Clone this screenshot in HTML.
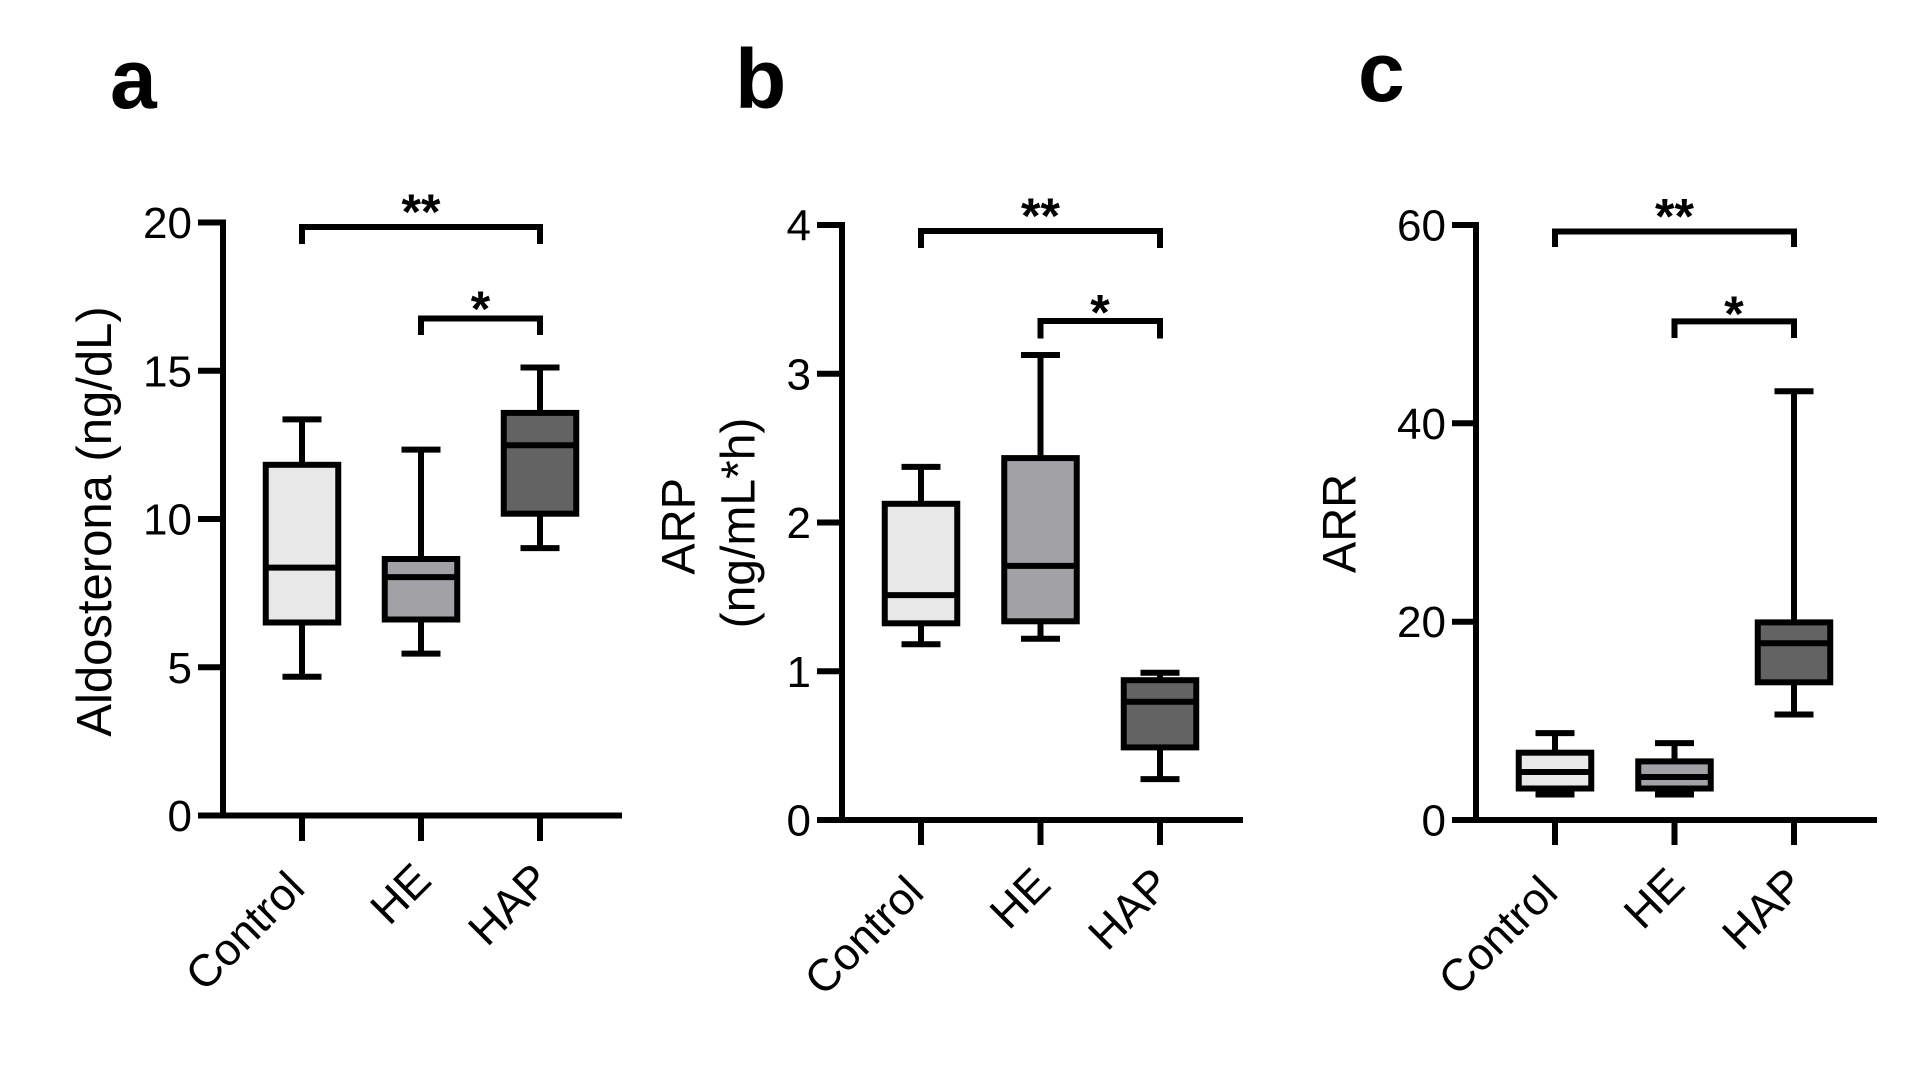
<!DOCTYPE html>
<html><head><meta charset="utf-8"><style>
html,body{margin:0;padding:0;background:#fff;}
svg{display:block;}
text{font-family:"Liberation Sans",Arial,sans-serif;fill:#000;}
.t{font-size:44px;}
.xl{font-size:45px;}
.ti{font-size:84px;font-weight:bold;}
.st{font-size:50px;font-weight:bold;}
.ln{stroke:#000;stroke-width:6;fill:none;stroke-linecap:butt;stroke-linejoin:miter;}
.bx{stroke:#000;stroke-width:6;}
</style></head><body>
<svg width="1926" height="1071" viewBox="0 0 1926 1071" xmlns="http://www.w3.org/2000/svg">
<rect width="1926" height="1071" fill="#fff"/>

<!-- Titles -->
<text class="ti" x="110" y="108">a</text>
<text class="ti" x="735" y="108">b</text>
<text class="ti" x="1358" y="101">c</text>

<!-- ================= Panel a ================= -->
<g>
<polyline class="ln" points="198,222.5 223,222.5 223,815.5"/>
<line class="ln" x1="198" y1="815.5" x2="622" y2="815.5"/>
<line class="ln" x1="198" y1="667.25" x2="223" y2="667.25"/>
<line class="ln" x1="198" y1="519" x2="223" y2="519"/>
<line class="ln" x1="198" y1="370.75" x2="223" y2="370.75"/>
<line class="ln" x1="302" y1="815.5" x2="302" y2="841"/>
<line class="ln" x1="421" y1="815.5" x2="421" y2="841"/>
<line class="ln" x1="540" y1="815.5" x2="540" y2="841"/>
<g class="t" text-anchor="end">
<text x="192" y="831">0</text>
<text x="192" y="682.75">5</text>
<text x="192" y="534.5">10</text>
<text x="192" y="386.25">15</text>
<text x="192" y="238">20</text>
</g>
<text style="font-size:49px" text-anchor="middle" transform="translate(111,521.5) rotate(-90)">Aldosterona (ng/dL)</text>
<g class="xl" text-anchor="end">
<text transform="translate(307,890.5) rotate(-45)">Control</text>
<text transform="translate(433.5,882.5) rotate(-45)">HE</text>
<text transform="translate(552.5,882.5) rotate(-45)">HAP</text>
</g>
<!-- Control -->
<line class="ln" x1="302" y1="419.4" x2="302" y2="464.8"/>
<line class="ln" x1="302" y1="622.5" x2="302" y2="676.7"/>
<line class="ln" x1="282.5" y1="419.4" x2="321.5" y2="419.4"/>
<line class="ln" x1="282.5" y1="676.7" x2="321.5" y2="676.7"/>
<rect class="bx" x="265.75" y="464.8" width="72.5" height="157.7" fill="#e8e8e8"/>
<line class="ln" x1="265.75" y1="567.6" x2="338.25" y2="567.6"/>
<!-- HE -->
<line class="ln" x1="421" y1="449.6" x2="421" y2="559"/>
<line class="ln" x1="421" y1="619.5" x2="421" y2="653.6"/>
<line class="ln" x1="401.5" y1="449.6" x2="440.5" y2="449.6"/>
<line class="ln" x1="401.5" y1="653.6" x2="440.5" y2="653.6"/>
<rect class="bx" x="384.75" y="559" width="72.5" height="60.5" fill="#a2a1a5"/>
<line class="ln" x1="384.75" y1="577.1" x2="457.25" y2="577.1"/>
<!-- HAP -->
<line class="ln" x1="540" y1="367.5" x2="540" y2="412.9"/>
<line class="ln" x1="540" y1="513.7" x2="540" y2="548.1"/>
<line class="ln" x1="520.5" y1="367.5" x2="559.5" y2="367.5"/>
<line class="ln" x1="520.5" y1="548.1" x2="559.5" y2="548.1"/>
<rect class="bx" x="503.75" y="412.9" width="72.5" height="100.8" fill="#636363"/>
<line class="ln" x1="503.75" y1="445.2" x2="576.25" y2="445.2"/>
<!-- brackets -->
<polyline class="ln" points="302,244 302,227 540,227 540,244"/>
<polyline class="ln" points="421,335 421,318.5 540,318.5 540,335"/>
<text class="st" x="421" y="229" text-anchor="middle">**</text>
<text class="st" x="480.5" y="326" text-anchor="middle">*</text>
</g>

<!-- ================= Panel b ================= -->
<g>
<polyline class="ln" points="817,225 842,225 842,820"/>
<line class="ln" x1="817" y1="820" x2="1243" y2="820"/>
<line class="ln" x1="817" y1="671.25" x2="842" y2="671.25"/>
<line class="ln" x1="817" y1="522.5" x2="842" y2="522.5"/>
<line class="ln" x1="817" y1="373.75" x2="842" y2="373.75"/>
<line class="ln" x1="921" y1="820" x2="921" y2="845"/>
<line class="ln" x1="1040.5" y1="820" x2="1040.5" y2="845"/>
<line class="ln" x1="1160" y1="820" x2="1160" y2="845"/>
<g class="t" text-anchor="end">
<text x="811" y="835.5">0</text>
<text x="811" y="686.75">1</text>
<text x="811" y="538">2</text>
<text x="811" y="389.25">3</text>
<text x="811" y="240.5">4</text>
</g>
<text style="font-size:47px" text-anchor="middle" transform="translate(694.5,526.4) rotate(-90)">ARP</text>
<text style="font-size:48px" text-anchor="middle" transform="translate(754.5,523) rotate(-90)">(ng/mL*h)</text>
<g class="xl" text-anchor="end">
<text transform="translate(926,895) rotate(-45)">Control</text>
<text transform="translate(1053,887) rotate(-45)">HE</text>
<text transform="translate(1172.5,887) rotate(-45)">HAP</text>
</g>
<!-- Control -->
<line class="ln" x1="921" y1="466.9" x2="921" y2="503.8"/>
<line class="ln" x1="921" y1="623.3" x2="921" y2="644.3"/>
<line class="ln" x1="901.5" y1="466.9" x2="940.5" y2="466.9"/>
<line class="ln" x1="901.5" y1="644.3" x2="940.5" y2="644.3"/>
<rect class="bx" x="884.75" y="503.8" width="72.5" height="119.5" fill="#e8e8e8"/>
<line class="ln" x1="884.75" y1="595.1" x2="957.25" y2="595.1"/>
<!-- HE -->
<line class="ln" x1="1040.5" y1="355" x2="1040.5" y2="458.1"/>
<line class="ln" x1="1040.5" y1="621.3" x2="1040.5" y2="638.7"/>
<line class="ln" x1="1021" y1="355" x2="1060" y2="355"/>
<line class="ln" x1="1021" y1="638.7" x2="1060" y2="638.7"/>
<rect class="bx" x="1004.25" y="458.1" width="72.5" height="163.2" fill="#a2a1a5"/>
<line class="ln" x1="1004.25" y1="565.9" x2="1076.75" y2="565.9"/>
<!-- HAP -->
<line class="ln" x1="1160" y1="672.7" x2="1160" y2="680.2"/>
<line class="ln" x1="1160" y1="747.4" x2="1160" y2="779.1"/>
<line class="ln" x1="1140.5" y1="672.7" x2="1179.5" y2="672.7"/>
<line class="ln" x1="1140.5" y1="779.1" x2="1179.5" y2="779.1"/>
<rect class="bx" x="1123.75" y="680.2" width="72.5" height="67.2" fill="#636363"/>
<line class="ln" x1="1123.75" y1="701.7" x2="1196.25" y2="701.7"/>
<!-- brackets -->
<polyline class="ln" points="921,248 921,231 1160,231 1160,248"/>
<polyline class="ln" points="1040.5,338.5 1040.5,321 1160,321 1160,338.5"/>
<text class="st" x="1040.5" y="233" text-anchor="middle">**</text>
<text class="st" x="1100" y="329.5" text-anchor="middle">*</text>
</g>

<!-- ================= Panel c ================= -->
<g>
<polyline class="ln" points="1452,225 1476,225 1476,820"/>
<line class="ln" x1="1452" y1="820" x2="1877" y2="820"/>
<line class="ln" x1="1452" y1="621.7" x2="1476" y2="621.7"/>
<line class="ln" x1="1452" y1="423.3" x2="1476" y2="423.3"/>
<line class="ln" x1="1555" y1="820" x2="1555" y2="845"/>
<line class="ln" x1="1674.5" y1="820" x2="1674.5" y2="845"/>
<line class="ln" x1="1794" y1="820" x2="1794" y2="845"/>
<g class="t" text-anchor="end">
<text x="1446" y="835.5">0</text>
<text x="1446" y="637.2">20</text>
<text x="1446" y="438.8">40</text>
<text x="1446" y="240.5">60</text>
</g>
<text style="font-size:47px" text-anchor="middle" transform="translate(1355.5,523.5) rotate(-90)">ARR</text>
<g class="xl" text-anchor="end">
<text transform="translate(1560,895) rotate(-45)">Control</text>
<text transform="translate(1687,887) rotate(-45)">HE</text>
<text transform="translate(1806.5,887) rotate(-45)">HAP</text>
</g>
<!-- Control -->
<line class="ln" x1="1555" y1="733.1" x2="1555" y2="752.7"/>
<line class="ln" x1="1555" y1="788.5" x2="1555" y2="794.5"/>
<line class="ln" x1="1535.5" y1="733.1" x2="1574.5" y2="733.1"/>
<line class="ln" x1="1535.5" y1="794.5" x2="1574.5" y2="794.5"/>
<rect class="bx" x="1518.75" y="752.7" width="72.5" height="35.8" fill="#e8e8e8"/>
<line class="ln" x1="1518.75" y1="772" x2="1591.25" y2="772"/>
<!-- HE -->
<line class="ln" x1="1674.5" y1="743.1" x2="1674.5" y2="761.4"/>
<line class="ln" x1="1674.5" y1="788.5" x2="1674.5" y2="794.5"/>
<line class="ln" x1="1655" y1="743.1" x2="1694" y2="743.1"/>
<line class="ln" x1="1655" y1="794.5" x2="1694" y2="794.5"/>
<rect class="bx" x="1638.25" y="761.4" width="72.5" height="27.1" fill="#a2a1a5"/>
<line class="ln" x1="1638.25" y1="777" x2="1710.75" y2="777"/>
<!-- HAP -->
<line class="ln" x1="1794" y1="391.3" x2="1794" y2="622.4"/>
<line class="ln" x1="1794" y1="682.3" x2="1794" y2="714.5"/>
<line class="ln" x1="1774.5" y1="391.3" x2="1813.5" y2="391.3"/>
<line class="ln" x1="1774.5" y1="714.5" x2="1813.5" y2="714.5"/>
<rect class="bx" x="1757.75" y="622.4" width="72.5" height="59.9" fill="#636363"/>
<line class="ln" x1="1757.75" y1="643.2" x2="1830.25" y2="643.2"/>
<!-- brackets -->
<polyline class="ln" points="1555,247 1555,231.5 1794,231.5 1794,247"/>
<polyline class="ln" points="1674.5,338 1674.5,321.4 1794,321.4 1794,338"/>
<text class="st" x="1674.5" y="233.5" text-anchor="middle">**</text>
<text class="st" x="1734" y="331" text-anchor="middle">*</text>
</g>
</svg>
</body></html>
